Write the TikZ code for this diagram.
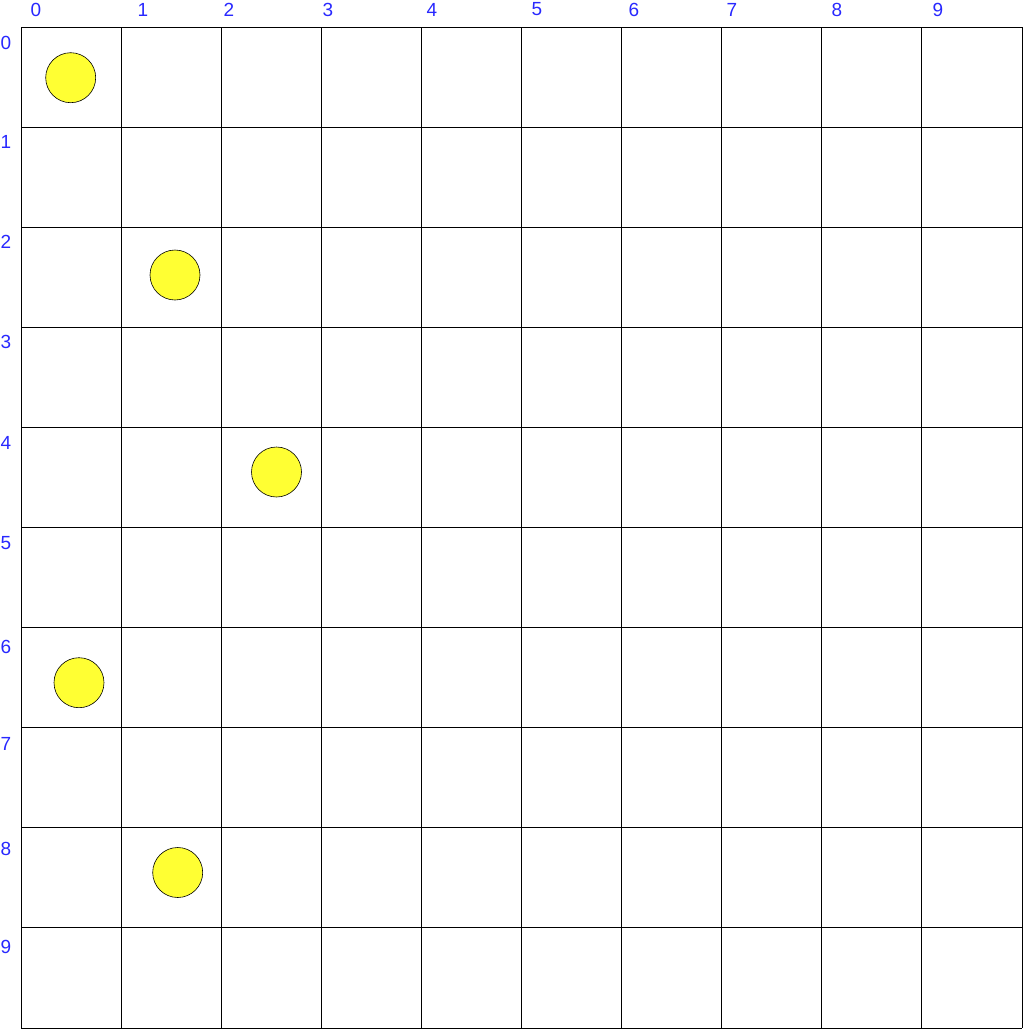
\documentclass[tikz,border=0pt]{standalone}
\usepackage{fontspec}
\setmainfont{Liberation Sans}
\definecolor{lblblue}{RGB}{40,40,255}
\definecolor{ballyellow}{RGB}{255,255,51}
\tikzset{
  gridline/.style={draw=black, line width=0.9pt},
  lbl/.style={text=lblblue, font=\fontsize{19}{19}\selectfont, inner sep=0pt, anchor=center},
  ball/.style={circle, draw=black, line width=0.6pt, fill=ballyellow, minimum size=50pt, inner sep=0pt}
}
\begin{document}
\begin{tikzpicture}[x=1pt, y=-1pt]
\useasboundingbox (0,0) rectangle (1023,1029);
% grid
\foreach \i in {0,...,10} {
  \draw[gridline] ({21+100.1*\i},27) -- ({21+100.1*\i},1028);
  \draw[gridline] (21,{27+100.1*\i}) -- (1022,{27+100.1*\i});
}
% column labels
\foreach \i/\x in {0/36,1/143,2/229,3/328,4/432,5/537,6/634,7/732,8/837,9/938} {
  \node[lbl] (c\i) at (\x,9.5) {\i};
}
% row labels
\foreach \i/\y in {0/43,1/142,2/242,3/342,4/443,5/543,6/647,7/744,8/849,9/947} {
  \node[lbl] (r\i) at (6,\y) {\i};
}
% balls
\node[ball] (b0) at (70.7,77.7) {};
\node[ball] (b1) at (175,275) {};
\node[ball] (b2) at (276.5,472) {};
\node[ball] (b3) at (79,682.7) {};
\node[ball] (b4) at (177.7,872.5) {};
\end{tikzpicture}
\end{document}
